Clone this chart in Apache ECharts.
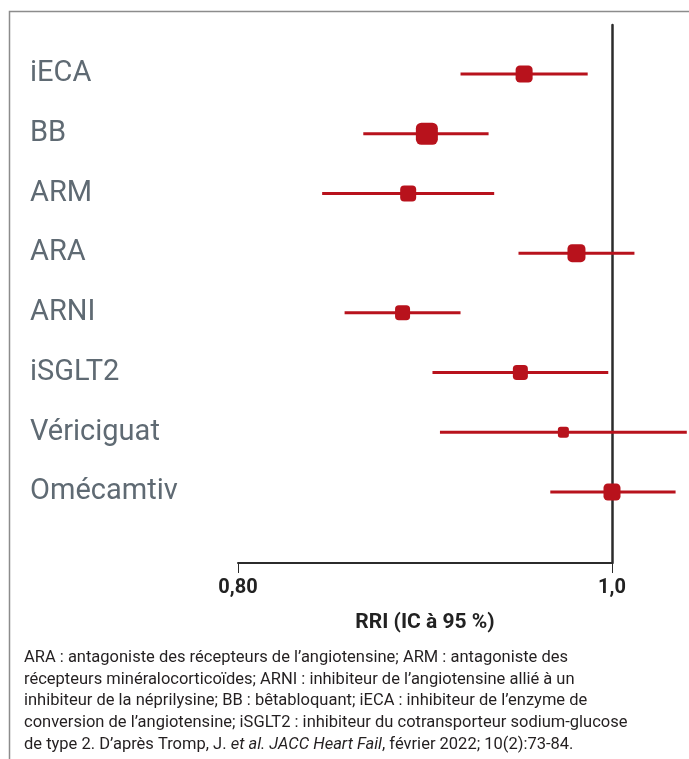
<!DOCTYPE html>
<html>
<head>
<meta charset="utf-8">
<script src="https://cdn.jsdelivr.net/npm/echarts@6/dist/echarts.min.js"></script>
<style>
html,body{margin:0;padding:0;background:#fff;}
#chart{width:689px;height:759px;}
</style>
</head>
<body>
<div id="chart"></div>
<script>
// ---- data ----
var categories = ['iECA', 'BB', 'ARM', 'ARA', 'ARNI', 'iSGLT2', 'Vériciguat', 'Omécamtiv'];
var estimate = [0.953, 0.901, 0.891, 0.981, 0.888, 0.951, 0.974, 1.000];
var ciLow    = [0.919, 0.867, 0.845, 0.950, 0.857, 0.904, 0.908, 0.967];
var ciHigh   = [0.987, 0.934, 0.937, 1.012, 0.919, 0.998, 1.040, 1.034];
var weight   = [17, 22, 16, 18, 15, 15, 11, 17];
var xTicks   = [0.8, 1.0];
var xTickLabels = {'0.8': '0,80', '1': '1,0'};
var axisTitle = 'RRI (IC à 95 %)';
var footnote = [
  'ARA : antagoniste des récepteurs de l’angiotensine; ARM : antagoniste des',
  'récepteurs minéralocorticoïdes; ARNI : inhibiteur de l’angiotensine allié à un',
  'inhibiteur de la néprilysine; BB : bêtabloquant; iECA : inhibiteur de l’enzyme de',
  'conversion de l’angiotensine; iSGLT2 : inhibiteur du cotransporteur sodium-glucose'
];
var footLast = ['de type 2. D’après Tromp, J. ', 'et al.', ' ', 'JACC Heart Fail', ', février 2022; 10(2):73-84.'];

var RED = '#b8121c';
var chart = echarts.init(document.getElementById('chart'), null, {renderer: 'canvas'});

var ciData = categories.map(function (c, i) { return [ciLow[i], ciHigh[i], i]; });
var pointData = categories.map(function (c, i) { return {value: [estimate[i], i], symbolSize: weight[i]}; });

var footText = footnote.map(function (l) { return '{n|' + l + '}'; }).join('\n') + '\n' +
  '{n|' + footLast[0] + '}{i|' + footLast[1] + '}{n|' + footLast[2] + '}{i|' + footLast[3] + '}{n|' + footLast[4] + '}';

var FOOT_FONT = '16.5px Roboto';
var option = {
  animation: false,
  backgroundColor: '#fff',
  grid: [
    {left: 238, right: 77, top: 25, bottom: 196, containLabel: false},
    {left: 238, right: 77, top: 44.2, height: 477.6, containLabel: false}
  ],
  xAxis: [
    {
      gridIndex: 0, type: 'value', min: 0.8, max: 1.0, interval: 0.2,
      axisLine: {show: true, lineStyle: {color: '#2b2b2b', width: 2}},
      axisTick: {show: true, length: 10, lineStyle: {color: '#2b2b2b', width: 1}},
      splitLine: {show: false},
      axisLabel: {
        margin: 15, fontFamily: 'Roboto', fontWeight: 'bold', fontSize: 20, color: '#222',
        formatter: function (v) { var k = String(Math.round(v * 10) / 10); return xTickLabels[k] || ''; }
      },
      name: axisTitle, nameLocation: 'middle', nameGap: 49,
      nameTextStyle: {fontFamily: 'Roboto', fontWeight: 'bold', fontSize: 21, color: '#222'}
    },
    {
      gridIndex: 1, type: 'value', min: 0.8, max: 1.0, show: false
    }
  ],
  yAxis: [
    {
      gridIndex: 0, type: 'value', position: 'right', min: 0, max: 1,
      axisLine: {show: true, onZero: false, lineStyle: {color: '#2b2b2b', width: 2.5}},
      axisTick: {show: false}, axisLabel: {show: false}, splitLine: {show: false}
    },
    {
      gridIndex: 1, type: 'category', data: categories, inverse: true,
      axisLine: {show: false}, axisTick: {show: false}, splitLine: {show: false},
      axisLabel: {
        align: 'left', margin: 208, fontFamily: 'Roboto', fontSize: 29, color: '#5f6a73'
      }
    }
  ],
  series: [
    {
      type: 'custom', xAxisIndex: 1, yAxisIndex: 1, clip: false,
      data: ciData,
      renderItem: function (params, api) {
        var p1 = api.coord([api.value(0), api.value(2)]);
        var p2 = api.coord([api.value(1), api.value(2)]);
        return {
          type: 'line',
          shape: {x1: p1[0], y1: p1[1], x2: p2[0], y2: p2[1]},
          style: {stroke: RED, lineWidth: 3}
        };
      },
      z: 2
    },
    {
      type: 'scatter', xAxisIndex: 1, yAxisIndex: 1, clip: false,
      symbol: 'roundRect',
      data: pointData,
      itemStyle: {color: RED, opacity: 1},
      z: 3
    }
  ],
  graphic: [
    {
      type: 'rect', left: 7, top: 9, silent: true,
      shape: {x: 0, y: 0, width: 720, height: 800},
      style: {fill: 'none', stroke: '#8c8c8c', lineWidth: 1.5}, z: -1
    },
    {
      type: 'text', left: 24, top: 647,
      style: {
        text: footText,
        font: FOOT_FONT,
        fill: '#231f20',
        lineHeight: 21.7,
        rich: {
          n: {font: FOOT_FONT, fill: '#231f20', lineHeight: 21.7},
          i: {font: 'italic ' + FOOT_FONT, fill: '#231f20', lineHeight: 21.7}
        }
      }
    }
  ]
};
chart.setOption(option);
</script>
</body>
</html>
